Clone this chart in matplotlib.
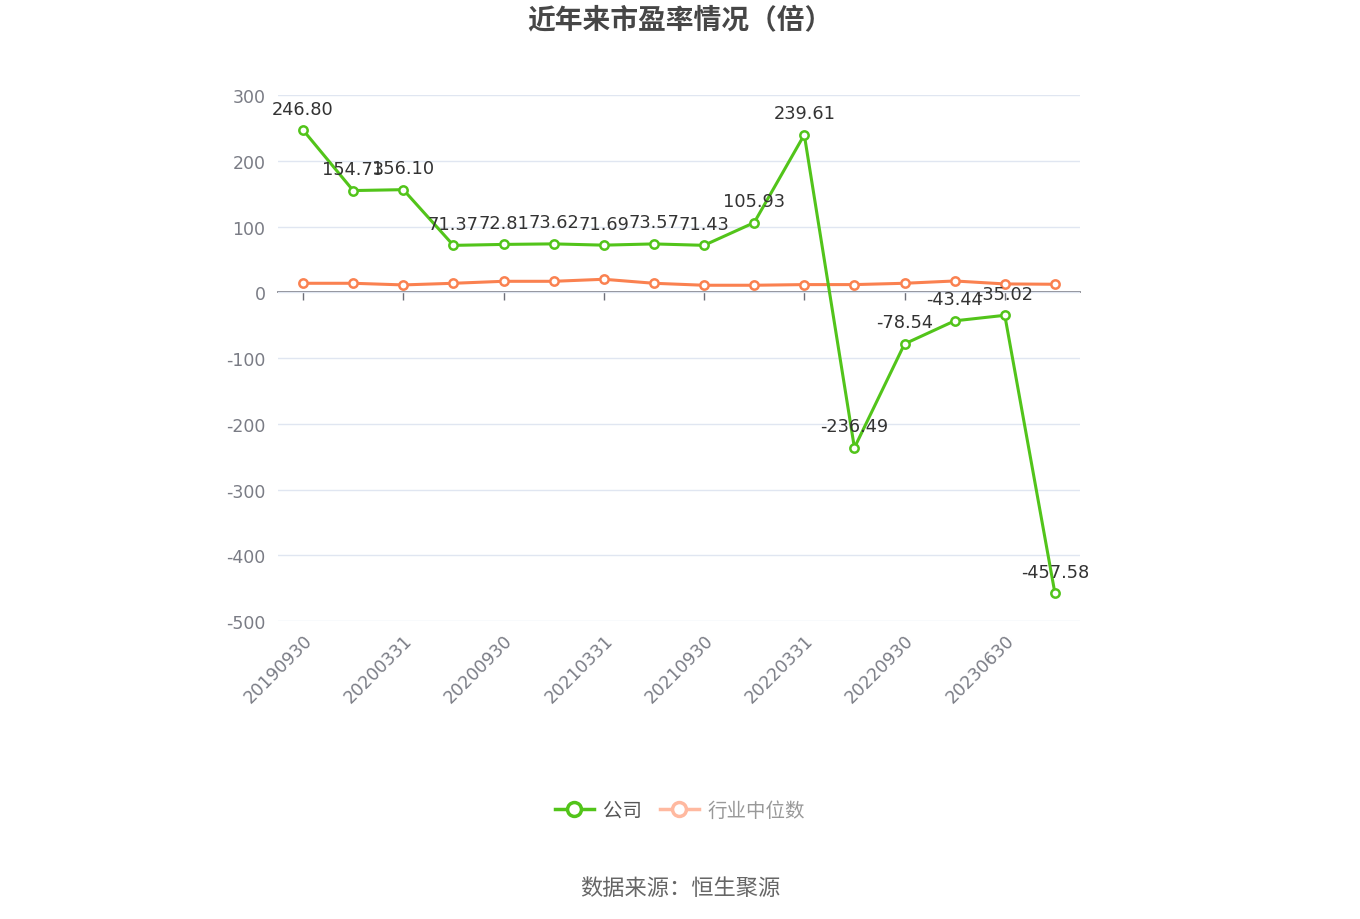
import matplotlib
matplotlib.use("Agg")
import matplotlib.pyplot as plt
from matplotlib.lines import Line2D

plt.rcParams['font.family'] = ['DejaVu Sans', 'Noto Sans CJK SC']

dates = ['20190930', '20191231', '20200331', '20200630', '20200930', '20201231',
         '20210331', '20210630', '20210930', '20211231', '20220331', '20220630',
         '20220930', '20230331', '20230630', '20230930']
company = [246.80, 154.73, 156.10, 71.37, 72.81, 73.62, 71.69, 73.57, 71.43,
           105.93, 239.61, -236.49, -78.54, -43.44, -35.02, -457.58]
industry = [13.7, 13.7, 11.2, 13.7, 16.7, 16.7, 19.8, 13.7, 10.7, 10.7, 11.7,
            11.7, 13.7, 17.2, 12.7, 12.2]
yticks = [-500, -400, -300, -200, -100, 0, 100, 200, 300]

green = '#52c41a'
orange = '#fa8150'
orange_light = '#ffb9a0'

fig = plt.figure(figsize=(13.6, 9.2), dpi=100)
ax = fig.add_axes([0.2044, 0.3239, 0.5897, 0.5717])

x = list(range(len(dates)))
ax.plot(x, industry, color=orange, lw=2.2, marker='o', ms=6, mfc='white',
        mec=orange, mew=1.8, zorder=3)
ax.plot(x, company, color=green, lw=2.2, marker='o', ms=6, mfc='white',
        mec=green, mew=1.8, zorder=4)

for i, v in enumerate(company):
    ax.annotate(f'{v:.2f}', (i, v), xytext=(0, 9), textcoords='offset points',
                ha='center', va='bottom', fontsize=12.8, color='#333333', zorder=5)

ax.set_xlim(-0.5, len(dates) - 0.5)
ax.set_ylim(-500, 300)
ax.set_yticks(yticks)
ax.set_yticklabels([str(t) for t in yticks])
ax.grid(axis='y', color='#e0e6f1', lw=1.0, zorder=0)
ax.set_axisbelow(True)
for s in ax.spines.values():
    s.set_visible(False)
ax.tick_params(axis='y', length=0, pad=9, labelsize=12.5, labelcolor='#7a7c85')

shown = x[::2]
ax.set_xticks(shown)
ax.set_xticklabels([dates[i] for i in shown])
ax.tick_params(axis='x', length=0, pad=7, labelsize=12.5, labelcolor='#7a7c85')
plt.setp(ax.get_xticklabels(), rotation=45, ha='right', va='top',
         rotation_mode='anchor')

# axis line at zero with tick marks
zero_ax = ax.secondary_xaxis(0, transform=ax.transData)
zero_ax.set_xticks(shown)
zero_ax.set_xticklabels([])
zero_ax.tick_params(axis='x', length=6, width=1, color='#6e7079', direction='out')
zero_ax.spines['bottom'].set_color('#6e7079')
zero_ax.spines['bottom'].set_linewidth(1.2)

fig.text(0.5, 0.977, '近年来市盈率情况（倍）', ha='center', va='center',
         fontsize=20, fontweight='bold', color='#464646',
         family=['Noto Sans CJK SC', 'DejaVu Sans'])

handles = [
    Line2D([], [], color=green, lw=2.5, marker='o', ms=10, mfc='white',
           mec=green, mew=2.5),
    Line2D([], [], color=orange_light, lw=2.5, marker='o', ms=10, mfc='white',
           mec=orange_light, mew=2.5),
]
leg = fig.legend(handles, ['公司', '行业中位数'], loc='center',
                 bbox_to_anchor=(0.5, 0.1185), ncol=2, frameon=False,
                 handlelength=2.0, handletextpad=0.45, columnspacing=0.95,
                 prop={'family': ['Noto Sans CJK SC', 'DejaVu Sans'], 'size': 14})
leg.get_texts()[0].set_color('#555555')
leg.get_texts()[1].set_color('#999999')

fig.text(0.5, 0.034, '数据来源：恒生聚源', ha='center', va='center',
         fontsize=16, color='#666666', family=['Noto Sans CJK SC', 'DejaVu Sans'])

fig.savefig('out.png', dpi=100)
